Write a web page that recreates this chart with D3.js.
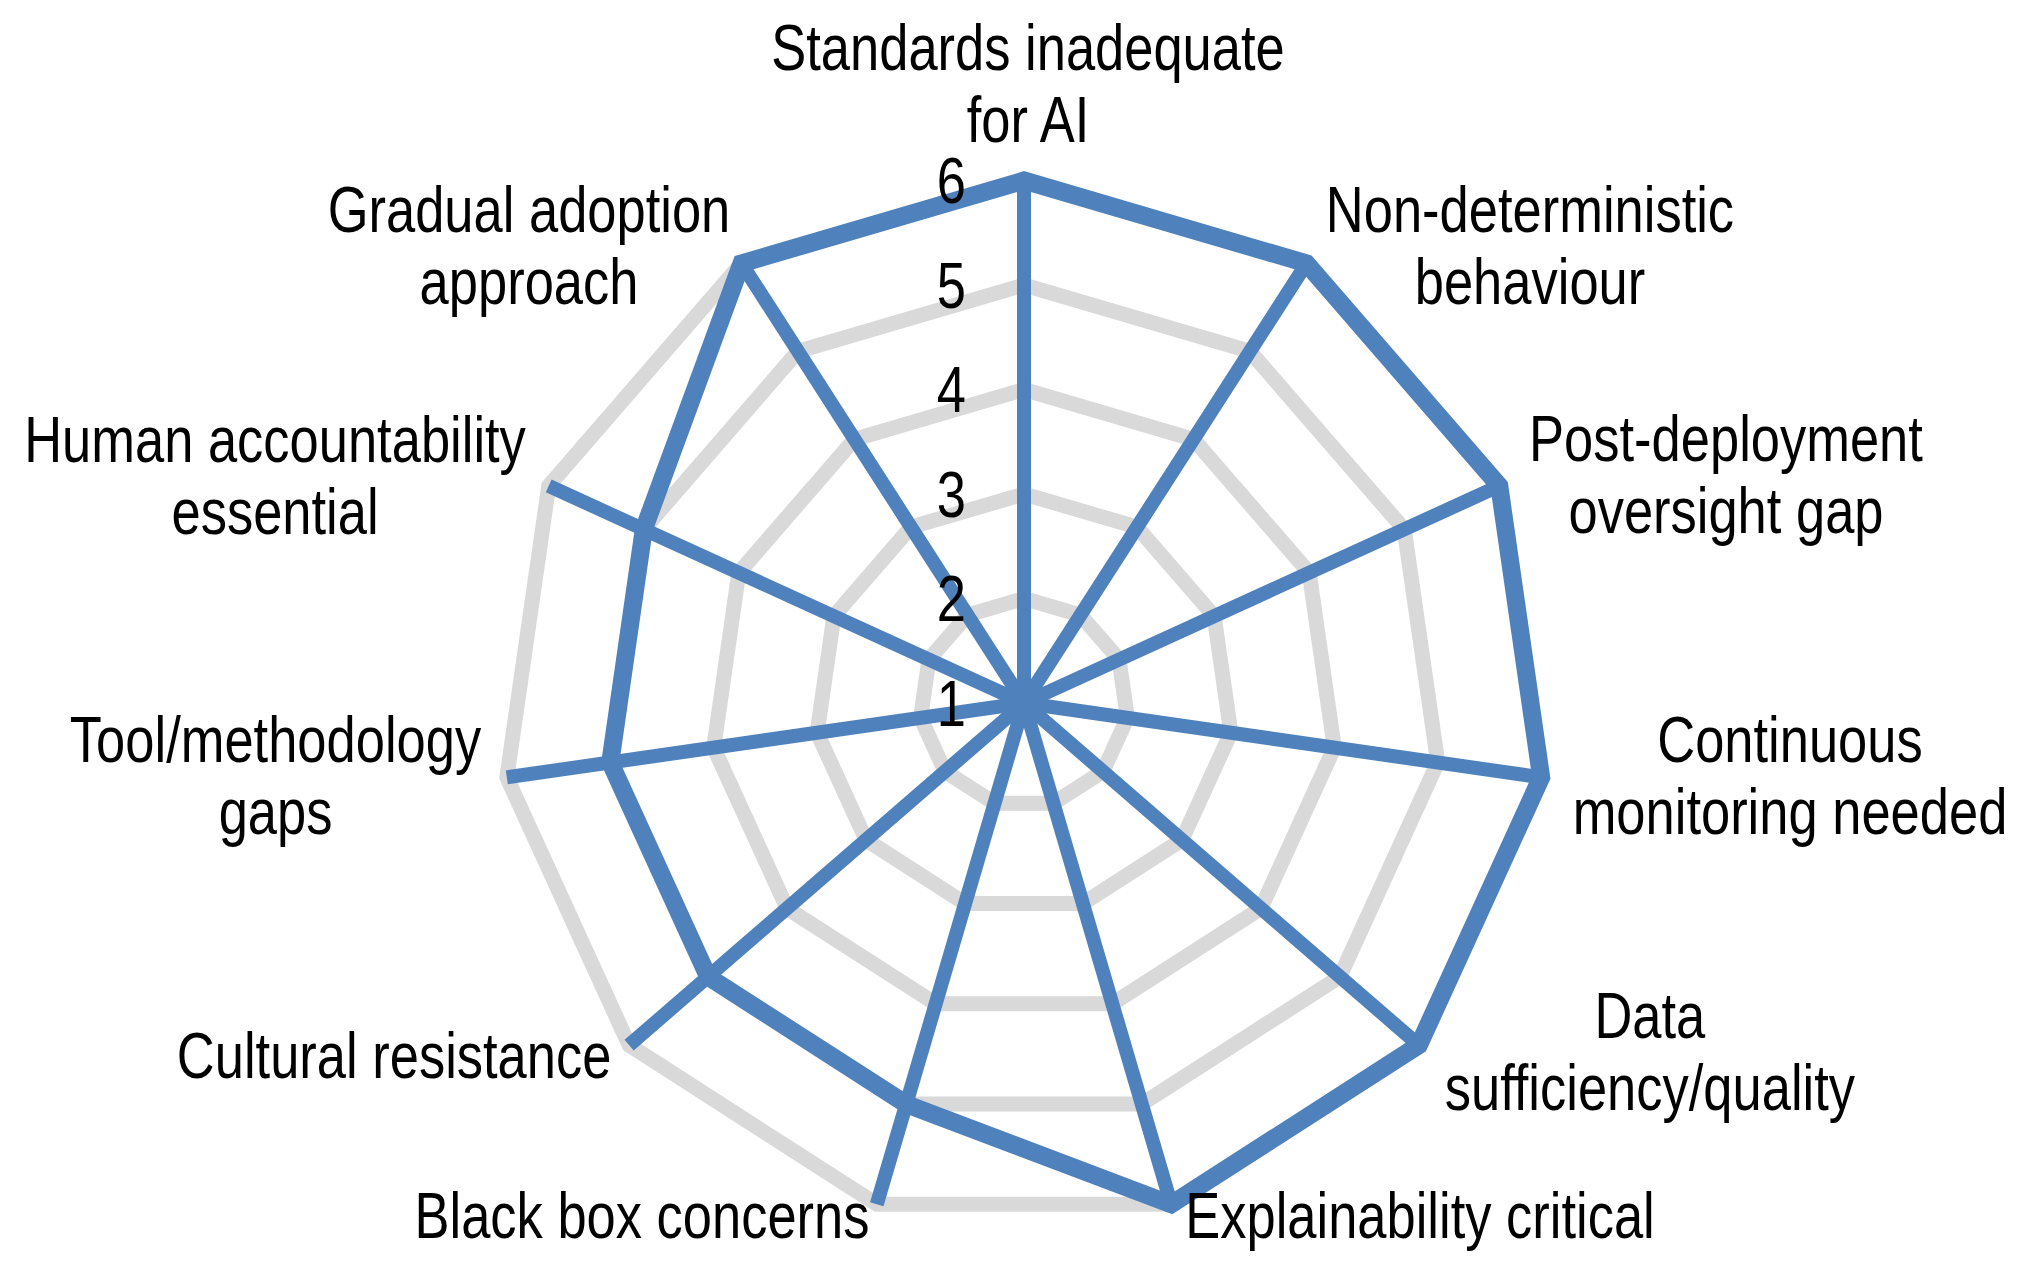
<!DOCTYPE html>
<html>
<head>
<meta charset="utf-8">
<script src="https://cdn.jsdelivr.net/npm/d3@7"></script>
<style>
html, body { margin: 0; padding: 0; background: #ffffff; }
svg { display: block; }
</style>
</head>
<body>
<svg id="chart" width="2037" height="1284"></svg>
<script>
// ---- data ----
const categories = [
  "Standards inadequate\nfor AI",
  "Non-deterministic\nbehaviour",
  "Post-deployment\noversight gap",
  "Continuous\nmonitoring needed",
  "Data\nsufficiency/quality",
  "Explainability critical",
  "Black box concerns",
  "Cultural resistance",
  "Tool/methodology\ngaps",
  "Human accountability\nessential",
  "Gradual adoption\napproach"
];
const values = [6, 6, 6, 6, 6, 6, 5, 5, 5, 5, 6];
const tickValues = [1, 2, 3, 4, 5, 6];

// ---- layout (not data) ----
const W = 2037, H = 1284;
const cx = 1024, cy = 703, R = 522.5;
const fontSize = 64, squeeze = 0.82, lineGap = 72;
const capH = 0.716 * fontSize;
// label block centre offsets from the outer ring point of each axis
const labelNudge = [
  [4, -97], [223.5, -18], [226.7, -11.4], [248.8, -2.4], [231, 5.8],
  [248.8, 10.7], [-234.8, 10.7], [-235, 9.8], [-231.3, -2.4], [-273.7, -10.9], [-212.5, -18]
];
const blue = "#4f81bd", grey = "#d9d9d9";
const fontFamily = "'Liberation Sans', Arial, sans-serif";

const svg = d3.select("#chart");
svg.append("rect").attr("width", W).attr("height", H).attr("fill", "#fff");
const g = svg.append("g").attr("transform", `translate(${cx},${cy})`);

const n = categories.length;
const r = d3.scaleLinear().domain([1, 6]).range([0, R]);
const ang = d3.scaleLinear().domain([0, n]).range([0, 2 * Math.PI]);
const idx = d3.range(n);

// grid rings
const ringLine = v => d3.lineRadial()
  .angle(i => ang(i))
  .radius(() => r(v))
  .curve(d3.curveLinearClosed)(idx);

g.selectAll("path.ring")
  .data(tickValues.filter(v => v > 1))
  .join("path")
  .attr("class", "ring")
  .attr("d", v => ringLine(v))
  .attr("fill", "none")
  .attr("stroke", grey)
  .attr("stroke-width", 15)
  .attr("stroke-linejoin", "miter");

// spokes (axis lines)
const rMax = r(d3.max(tickValues));
g.selectAll("line.spoke")
  .data(idx)
  .join("line")
  .attr("class", "spoke")
  .attr("x1", 0).attr("y1", 0)
  .attr("x2", i => rMax * Math.sin(ang(i)))
  .attr("y2", i => -rMax * Math.cos(ang(i)))
  .attr("stroke", blue)
  .attr("stroke-width", 14);

// data polygon
const dataLine = d3.lineRadial()
  .angle((d, i) => ang(i))
  .radius(d => r(d))
  .curve(d3.curveLinearClosed);

g.append("path")
  .datum(values)
  .attr("d", dataLine)
  .attr("fill", "none")
  .attr("stroke", blue)
  .attr("stroke-width", 18)
  .attr("stroke-linejoin", "miter")
  .attr("stroke-miterlimit", 10);

// tick labels
g.selectAll("g.tick")
  .data(tickValues)
  .join("g")
  .attr("class", "tick")
  .attr("transform", v => `translate(-58,${-r(v) + capH / 2}) scale(${squeeze},1)`)
  .append("text")
  .attr("text-anchor", "end")
  .attr("font-family", fontFamily)
  .attr("font-size", fontSize)
  .attr("fill", "#000")
  .text(v => v);

// category labels
const lab = g.selectAll("g.label")
  .data(categories.map((c, i) => ({ lines: c.split("\n"), i })))
  .join("g")
  .attr("class", "label")
  .attr("transform", d => {
    const a = ang(d.i);
    const px = rMax * Math.sin(a) + labelNudge[d.i][0];
    const py = -rMax * Math.cos(a) + labelNudge[d.i][1];
    return `translate(${px},${py}) scale(${squeeze},1)`;
  });

lab.each(function (d) {
  const t = d3.select(this).append("text")
    .attr("text-anchor", "middle")
    .attr("font-family", fontFamily)
    .attr("font-size", fontSize)
    .attr("fill", "#000");
  const first = -((d.lines.length - 1) * lineGap) / 2 + capH / 2;
  d.lines.forEach((ln, k) => {
    t.append("tspan").attr("x", 0).attr("y", first + k * lineGap).text(ln);
  });
});
</script>
</body>
</html>
